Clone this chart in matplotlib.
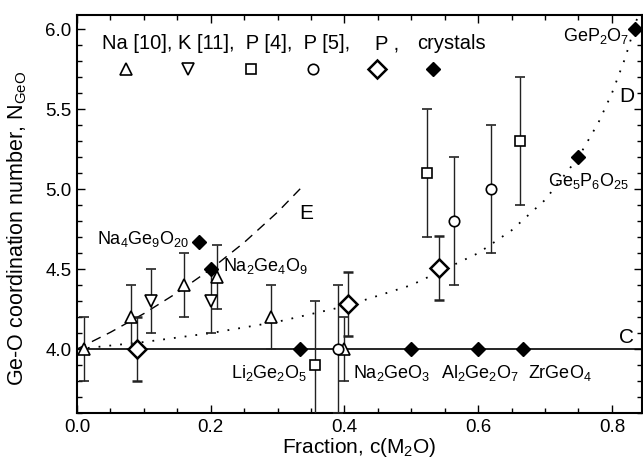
import matplotlib
matplotlib.use("Agg")
import matplotlib.pyplot as plt
from matplotlib.ticker import MultipleLocator, FormatStrFormatter

plt.rcParams['font.family'] = ['Liberation Sans', 'DejaVu Sans']
plt.rcParams['mathtext.fontset'] = 'custom'
plt.rcParams['mathtext.rm'] = 'Liberation Sans'
plt.rcParams['mathtext.default'] = 'regular'

# Na [10] glasses (up triangles)
na_x = [0.01, 0.08, 0.16, 0.21, 0.29, 0.40]
na_y = [4.0, 4.2, 4.4, 4.45, 4.2, 4.0]
na_err = [0.2, 0.2, 0.2, 0.2, 0.2, 0.2]

# K [11] glasses (down triangles)
k_x = [0.11, 0.20]
k_y = [4.3, 4.3]
k_err = [0.2, 0.2]

# P [4] (squares)
p4_x = [0.356, 0.524, 0.662]
p4_y = [3.9, 5.1, 5.3]
p4_err = [0.4, 0.4, 0.4]

# P [5] (circles)
p5_x = [0.391, 0.564, 0.619]
p5_y = [4.0, 4.8, 5.0]
p5_err = [0.4, 0.4, 0.4]

# P, this work (open diamonds)
p_x = [0.09, 0.406, 0.541]
p_y = [4.0, 4.28, 4.51]
p_err = [0.2, 0.2, 0.2]

# crystals (filled diamonds)
cr_x = [0.182, 0.20, 0.333, 0.50, 0.60, 0.667, 0.75, 0.834]
cr_y = [4.67, 4.5, 4.0, 4.0, 4.0, 4.0, 5.2, 6.0]
cr_names = ["Na$_4$Ge$_9$O$_{20}$", "Na$_2$Ge$_4$O$_9$", "Li$_2$Ge$_2$O$_5$", "Na$_2$GeO$_3$",
            "Al$_2$Ge$_2$O$_7$", "ZrGeO$_4$", "Ge$_5$P$_6$O$_{25}$", "GeP$_2$O$_7$"]
cr_label_pos = [(0.168, 4.69, 'right'), (0.218, 4.52, 'left'), (0.23, 3.85, 'left'),
                (0.413, 3.85, 'left'), (0.545, 3.85, 'left'), (0.674, 3.85, 'left'),
                (0.825, 5.05, 'right'), (0.826, 5.96, 'right')]

# model curves
c_x = [0.0, 0.845]
c_y = [4.0, 4.0]
d_x = [0.0, 0.1, 0.2, 0.3, 0.4, 0.5, 0.6, 0.65, 0.7, 0.75, 0.78, 0.8, 0.82, 0.84]
d_y = [4.0, 4.044, 4.10, 4.171, 4.267, 4.40, 4.60, 4.743, 4.933, 5.20, 5.418, 5.60, 5.822, 6.10]
e_x = [0.0, 0.05, 0.1, 0.15, 0.2, 0.25, 0.3, 0.335]
e_y = [4.0, 4.105, 4.222, 4.353, 4.5, 4.667, 4.857, 5.008]

fig = plt.figure(figsize=(6.43, 4.59), dpi=100)
ax = fig.add_axes([0.1198, 0.1002, 0.8786, 0.8671])

ax.plot(c_x, c_y, color='black', lw=1.2, zorder=1)
ax.plot(d_x, d_y, color='black', lw=1.3, ls=(0, (1, 5)), zorder=1)
ax.plot(e_x, e_y, color='black', lw=1.0, ls=(0, (7, 5)), zorder=1)

eb = dict(ls='none', ecolor='#222222', elinewidth=1.0, capsize=3.5, capthick=1.0,
          mfc='white', mec='black', zorder=3)
ax.errorbar(na_x, na_y, yerr=na_err, marker='^', ms=8, mew=1.2, **eb)
ax.errorbar(k_x, k_y, yerr=k_err, marker='v', ms=8, mew=1.2, **eb)
ax.errorbar(p4_x, p4_y, yerr=p4_err, marker='s', ms=6.5, mew=1.2, **eb)
ax.errorbar(p5_x, p5_y, yerr=p5_err, marker='o', ms=7.5, mew=1.2, **eb)
ax.errorbar(p_x, p_y, yerr=p_err, marker='D', ms=9, mew=1.8, **eb)
ax.plot(cr_x, cr_y, ls='none', marker='D', ms=7.5, color='black', zorder=4, clip_on=False)

for name, (tx, ty, ha) in zip(cr_names, cr_label_pos):
    ax.text(tx, ty, name, ha=ha, va='center', fontsize=13)

ax.text(0.822, 4.07, "C", ha='center', va='center', fontsize=15)
ax.text(0.823, 5.58, "D", ha='center', va='center', fontsize=15)
ax.text(0.343, 4.85, "E", ha='center', va='center', fontsize=15)

# legend row drawn by hand
ax.text(0.037, 5.91, "Na [10], K [11],  P [4],  P [5],", ha='left', va='center', fontsize=14.5)
ax.text(0.445, 5.91, "P ,", ha='left', va='center', fontsize=14.5)
ax.text(0.508, 5.91, "crystals", ha='left', va='center', fontsize=14.5)
ax.plot([0.073], [5.75], ls='none', marker='^', ms=8, mew=1.2, mfc='white', mec='black')
ax.plot([0.166], [5.75], ls='none', marker='v', ms=8, mew=1.2, mfc='white', mec='black')
ax.plot([0.26], [5.75], ls='none', marker='s', ms=6.5, mew=1.2, mfc='white', mec='black')
ax.plot([0.353], [5.75], ls='none', marker='o', ms=7.5, mew=1.2, mfc='white', mec='black')
ax.plot([0.448], [5.75], ls='none', marker='D', ms=9, mew=1.8, mfc='white', mec='black')
ax.plot([0.533], [5.75], ls='none', marker='D', ms=7.5, color='black')

ax.set_xlim(0.0, 0.845)
ax.set_ylim(3.6, 6.09)
ax.xaxis.set_major_locator(MultipleLocator(0.2))
ax.xaxis.set_minor_locator(MultipleLocator(0.05))
ax.yaxis.set_major_locator(MultipleLocator(0.5))
ax.yaxis.set_minor_locator(MultipleLocator(0.1))
ax.xaxis.set_major_formatter(FormatStrFormatter('%.1f'))
ax.yaxis.set_major_formatter(FormatStrFormatter('%.1f'))
ax.tick_params(which='both', direction='in', top=True, right=True, labelsize=13.5, width=1.0)
ax.tick_params(which='major', length=6, pad=4)
ax.tick_params(which='minor', length=3.5)
for s in ax.spines.values():
    s.set_linewidth(1.5)

ax.set_xlabel("Fraction, c(M$_2$O)", fontsize=15, labelpad=0)
ax.set_ylabel("Ge-O coordination number, N$_{GeO}$", fontsize=15.5)
ax.yaxis.set_label_coords(-0.085, 0.465)

fig.savefig("out.png", dpi=100)
